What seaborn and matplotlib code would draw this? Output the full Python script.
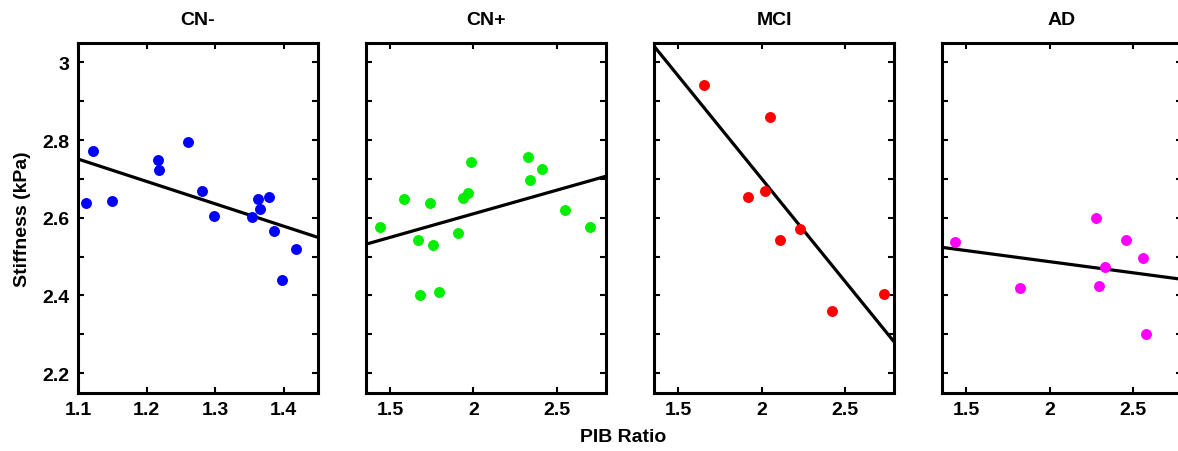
import matplotlib
matplotlib.use("Agg")
import matplotlib.pyplot as plt
import seaborn as sns
import numpy as np
import pandas as pd

# values
groups = ["CN-", "CN+", "MCI", "AD"]
colors = ["#0000ff", "#00ee00", "#ff0000", "#ff00ff"]

cn_minus_pib = [1.111, 1.122, 1.150, 1.216, 1.218, 1.260, 1.281, 1.299,
                1.354, 1.363, 1.366, 1.378, 1.386, 1.397, 1.418]
cn_minus_stiff = [2.638, 2.773, 2.642, 2.749, 2.723, 2.794, 2.668, 2.605,
                  2.601, 2.649, 2.622, 2.653, 2.567, 2.440, 2.519]

cn_plus_pib = [1.44, 1.586, 1.74, 1.67, 1.76, 1.68, 1.796, 1.908,
               1.938, 1.966, 1.988, 2.326, 2.34, 2.41, 2.55, 2.70]
cn_plus_stiff = [2.575, 2.648, 2.638, 2.542, 2.531, 2.401, 2.410, 2.561,
                 2.650, 2.665, 2.744, 2.757, 2.698, 2.725, 2.620, 2.575]

mci_pib = [1.655, 2.05, 1.92, 2.022, 2.11, 2.233, 2.424, 2.733]
mci_stiff = [2.941, 2.859, 2.654, 2.669, 2.543, 2.572, 2.361, 2.403]

ad_pib = [1.432, 1.82, 2.276, 2.296, 2.334, 2.46, 2.562, 2.576]
ad_stiff = [2.538, 2.420, 2.600, 2.424, 2.473, 2.542, 2.497, 2.301]

pib = [cn_minus_pib, cn_plus_pib, mci_pib, ad_pib]
stiff = [cn_minus_stiff, cn_plus_stiff, mci_stiff, ad_stiff]

df = pd.concat([pd.DataFrame({"group": g, "pib": p, "stiffness": s})
                for g, p, s in zip(groups, pib, stiff)], ignore_index=True)

sns.set_style("ticks")
plt.rcParams["font.family"] = ["Liberation Sans", "DejaVu Sans"]
plt.rcParams["font.weight"] = "bold"
plt.rcParams["text.color"] = "black"
plt.rcParams["axes.labelcolor"] = "black"
plt.rcParams["xtick.color"] = "black"
plt.rcParams["ytick.color"] = "black"

fig = plt.figure(figsize=(11.78, 4.52), dpi=100)

lefts = [0.0662, 0.3107, 0.5552, 0.7997]
width = 0.2037
bottom = 0.1294
height = 0.7733

xlims = [(1.1, 1.45), (1.355, 2.795), (1.355, 2.795), (1.355, 2.795)]
xticks = [[1.1, 1.2, 1.3, 1.4], [1.5, 2, 2.5], [1.5, 2, 2.5], [1.5, 2, 2.5]]
xticklabels = [["1.1", "1.2", "1.3", "1.4"], ["1.5", "2", "2.5"],
               ["1.5", "2", "2.5"], ["1.5", "2", "2.5"]]
yticks = [2.2, 2.3, 2.4, 2.5, 2.6, 2.7, 2.8, 2.9, 3.0]
yticklabels = ["2.2", "", "2.4", "", "2.6", "", "2.8", "", "3"]

for i, g in enumerate(groups):
    ax = fig.add_axes([lefts[i], bottom, width, height])
    ax.set_xlim(*xlims[i])
    ax.set_ylim(2.15, 3.05)
    sub = df[df["group"] == g]
    sns.regplot(data=sub, x="pib", y="stiffness", ax=ax, ci=None,
                truncate=False, color=colors[i],
                scatter_kws={"s": 62, "color": colors[i], "linewidths": 0,
                             "alpha": 1, "zorder": 3},
                line_kws={"color": "black", "lw": 2.3, "zorder": 2})
    ax.set_xlim(*xlims[i])
    ax.set_ylim(2.15, 3.05)
    ax.set_xticks(xticks[i])
    ax.set_xticklabels(xticklabels[i], fontsize=14, fontweight="bold")
    ax.set_yticks(yticks)
    if i == 0:
        ax.set_yticklabels(yticklabels, fontsize=14, fontweight="bold")
        ax.set_ylabel("Stiffness (kPa)", fontsize=14, fontweight="bold",
                      labelpad=8)
    else:
        ax.set_yticklabels([])
        ax.set_ylabel("")
    ax.set_xlabel("")
    ax.set_title(g, fontsize=14, fontweight="bold", pad=14)
    ax.tick_params(direction="in", length=4, width=1.5, top=True,
                   right=True, pad=6, colors="black")
    for sp in ax.spines.values():
        sp.set_visible(True)
        sp.set_linewidth(2.2)
        sp.set_color("black")

fig.text(0.529, 0.033, "PIB Ratio", ha="center", va="center",
         fontsize=14, fontweight="bold")

fig.savefig("out.png", dpi=100)
